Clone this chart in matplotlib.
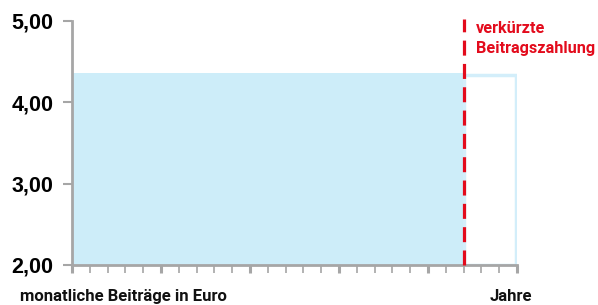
import matplotlib
matplotlib.use("Agg")
import matplotlib.pyplot as plt
from matplotlib.patches import Rectangle
from matplotlib import font_manager as fm

# Data
years_total = 25
years_paid = 22
monthly_contribution = 4.36
y_ticks = [2.0, 3.0, 4.0, 5.0]
y_tick_labels = ["2,00", "3,00", "4,00", "5,00"]
y_label = "monatliche Beiträge in Euro"
x_label = "Jahre"
annotation_lines = ["verkürzte", "Beitragszahlung"]

fill_col = "#cdedf9"
red = "#e30b1c"
axis_col = "#a6a6a6"
W, H = 598, 305


def roboto_bold(size):
    for f in fm.fontManager.ttflist:
        if f.fname.endswith("Roboto-Bold.ttf"):
            return fm.FontProperties(fname=f.fname, size=size)
    return fm.FontProperties(family="Roboto", weight="bold", size=size)


fig = plt.figure(figsize=(W/100, H/100), dpi=100)
ax = fig.add_axes([72/W, 40/H, (517-72)/W, (265-21)/H])
ax.set_xlim(0, years_total)
ax.set_ylim(2, 5)

# filled bar (paid part)
ax.add_patch(Rectangle((0, 2), years_paid, monthly_contribution - 2,
                       facecolor=fill_col, edgecolor="none", zorder=1))
# outlined bar (remaining years)
ax.add_patch(Rectangle((years_paid, 2), years_total - years_paid - 0.05,
                       monthly_contribution - 2 - 0.02,
                       facecolor="white", edgecolor="#d3eefa", linewidth=2.5, zorder=1))

# dashed red line
ax.plot([years_paid, years_paid], [2, 5.03], color=red, lw=2.3,
        dashes=(4.7, 2.6), clip_on=False, zorder=3)
for i, line in enumerate(annotation_lines):
    fig.text(476/W, 1 - (33 + 20*i)/H, line, color=red,
             fontproperties=roboto_bold(11.7), va="baseline", ha="left")

for s in ["top", "right"]:
    ax.spines[s].set_visible(False)
for s in ["left", "bottom"]:
    ax.spines[s].set_color(axis_col)
    ax.spines[s].set_linewidth(2)

ax.set_yticks(y_ticks)
ax.set_yticklabels(y_tick_labels, fontsize=15.5, fontweight="bold",
                   family="Liberation Sans")
ax.tick_params(axis="y", length=6.5, width=1.5, color=axis_col, pad=7)

ax.set_xticks(range(0, years_total + 1, 5))
ax.set_xticks(range(0, years_total + 1), minor=True)
ax.set_xticklabels([])
ax.tick_params(axis="x", which="major", length=5.5, width=2.2, color=axis_col)
ax.tick_params(axis="x", which="minor", length=5.5, width=1.2, color=axis_col)

fig.text(20/W, 1 - 301/H, y_label, fontproperties=roboto_bold(12),
         va="baseline", ha="left", color="#111111")
fig.text(490/W, 1 - 301/H, x_label, fontproperties=roboto_bold(12),
         va="baseline", ha="left", color="#111111")

fig.savefig("out.png", dpi=100)
